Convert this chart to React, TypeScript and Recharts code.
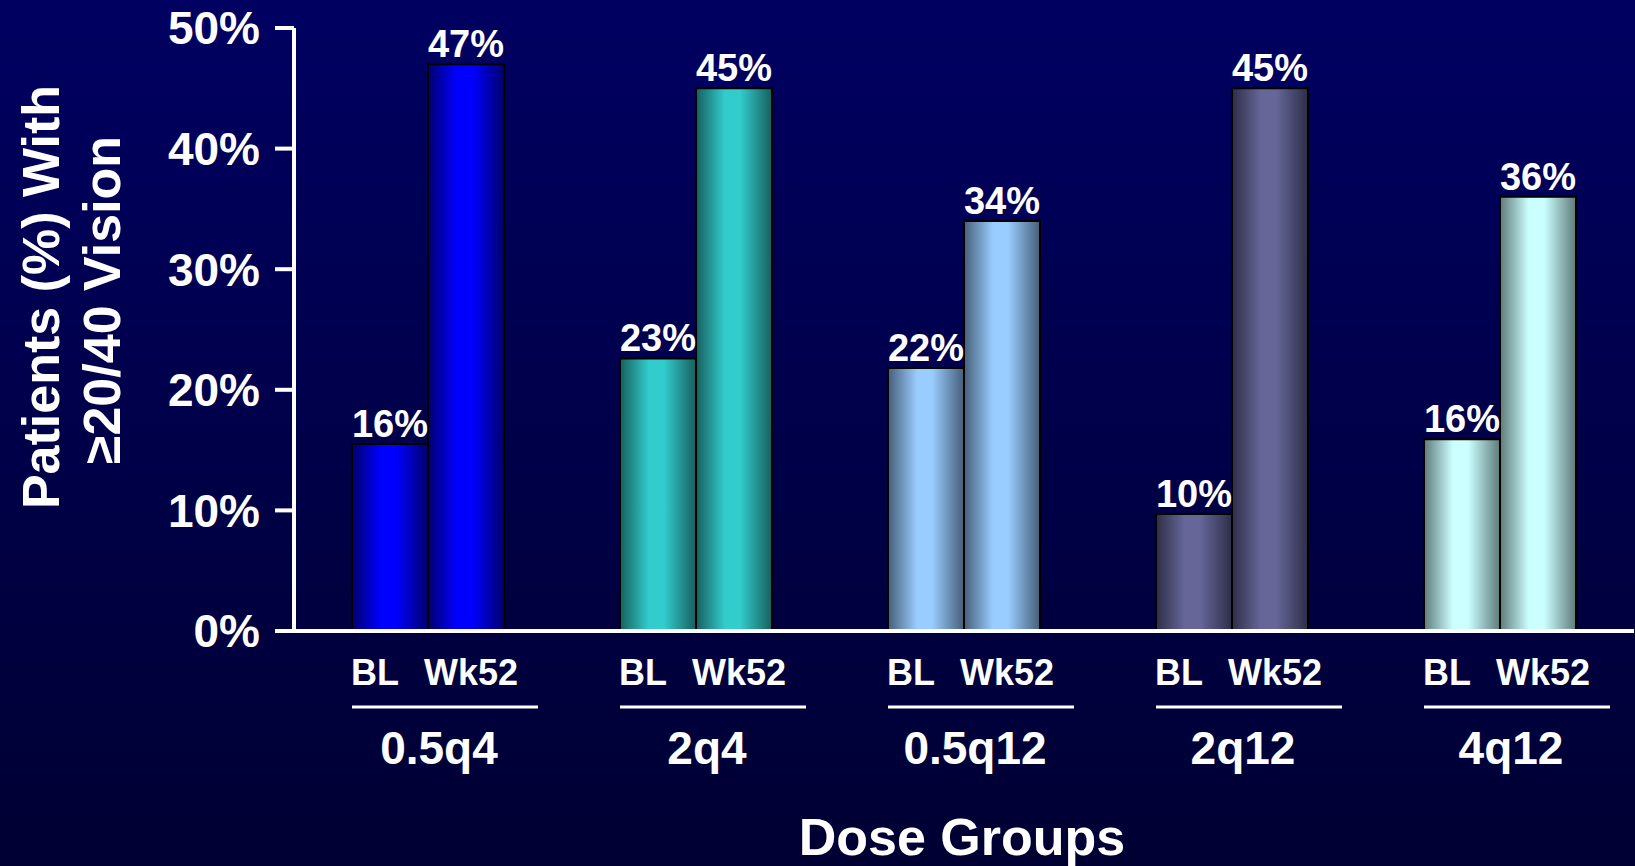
import React from 'react';
import { BarChart, Bar, XAxis, YAxis, Cell, LabelList } from 'recharts';

const groups = ['0.5q4', '2q4', '0.5q12', '2q12', '4q12'];
const blValues = [15.5, 22.6, 21.8, 9.7, 15.9];
const wkValues = [47, 45, 34, 45, 36];
const blLabels = ['16%', '23%', '22%', '10%', '16%'];
const wkLabels = ['47%', '45%', '34%', '45%', '36%'];
const yTicks = [0, 10, 20, 30, 40, 50];
const brightColors = ['#0000FF', '#33CCCC', '#99CCFF', '#666699', '#CCFFFF'];
const darkColors = ['#00006E', '#175F5F', '#465E78', '#2E2E48', '#5F7A7A'];

const data = groups.map((g, i) => ({
  group: g,
  bl: blValues[i],
  wk: wkValues[i],
  blLabel: blLabels[i],
  wkLabel: wkLabels[i],
}));

const FONT = '"Liberation Sans", Arial, Helvetica, sans-serif';

const XTick = (props: any) => {
  const { x, payload } = props;
  const axisY = 631;
  return (
    <g fontFamily={FONT} fontWeight="bold" fill="#fff">
      <text x={x - 53} y={axisY + 54} textAnchor="middle" fontSize={36} fill="#fff">BL</text>
      <text x={x + 43} y={axisY + 54} textAnchor="middle" fontSize={36} fill="#fff">Wk52</text>
      <line x1={x - 76} x2={x + 110} y1={axisY + 76} y2={axisY + 76} stroke="#fff" strokeWidth={3} />
      <text x={x + 11} y={axisY + 133} textAnchor="middle" fontSize={46} fill="#fff">{payload.value}</text>
    </g>
  );
};

const YTitle = () => (
  <g fontFamily={FONT} fontWeight="bold" fill="#fff">
    <text transform="translate(59,297) rotate(-90)" textAnchor="middle" fontSize={52} fill="#fff">Patients (%) With</text>
    <text transform="translate(120,300) rotate(-90)" textAnchor="middle" fontSize={52} fill="#fff">≥20/40 Vision</text>
  </g>
);

const XTitle = () => (
  <text x={962} y={855} textAnchor="middle" fontSize={52} fontFamily={FONT} fontWeight="bold" fill="#fff">Dose Groups</text>
);

export default function App() {
  return (
    <div
      style={{
        position: 'absolute',
        left: 0,
        top: 0,
        width: 1635,
        height: 866,
        background: 'linear-gradient(to bottom, #000062 0%, #00004A 50%, #000033 100%)',
      }}
    >
      <BarChart
        width={1635}
        height={866}
        data={data}
        margin={{ top: 28, right: 1, bottom: 0, left: 0 }}
        barGap={0}
        barSize={76}
      >
        <defs>
          {brightColors.map((c, i) => (
            <linearGradient key={i} id={`grad${i}`} x1="0" y1="0" x2="1" y2="0">
              <stop offset="0%" stopColor={darkColors[i]} />
              <stop offset="38%" stopColor={c} />
              <stop offset="58%" stopColor={c} />
              <stop offset="100%" stopColor={darkColors[i]} />
            </linearGradient>
          ))}
        </defs>
        <XAxis
          dataKey="group"
          height={235}
          axisLine={{ stroke: '#fff', strokeWidth: 4 }}
          tickLine={false}
          tickSize={0}
          tick={<XTick />}
          interval={0}
          label={{ content: () => <XTitle /> }}
        />
        <YAxis
          width={294}
          domain={[0, 50]}
          ticks={yTicks}
          tickFormatter={(v: number) => `${v}%`}
          axisLine={{ stroke: '#fff', strokeWidth: 4 }}
          tickLine={{ stroke: '#fff', strokeWidth: 4 }}
          tickSize={19}
          tickMargin={15}
          tick={{ fill: '#fff', fontSize: 46, fontWeight: 'bold', fontFamily: FONT }}
          label={{ content: () => <YTitle /> }}
        />
        <Bar dataKey="bl" isAnimationActive={false}>
          {data.map((_, i) => (
            <Cell key={i} fill={`url(#grad${i})`} stroke="#000" strokeWidth={2} />
          ))}
          <LabelList dataKey="blLabel" position="top" offset={7} fill="#fff" fontSize={38} fontWeight="bold" fontFamily={FONT} />
        </Bar>
        <Bar dataKey="wk" isAnimationActive={false}>
          {data.map((_, i) => (
            <Cell key={i} fill={`url(#grad${i})`} stroke="#000" strokeWidth={2} />
          ))}
          <LabelList dataKey="wkLabel" position="top" offset={7} fill="#fff" fontSize={38} fontWeight="bold" fontFamily={FONT} />
        </Bar>
      </BarChart>
    </div>
  );
}
